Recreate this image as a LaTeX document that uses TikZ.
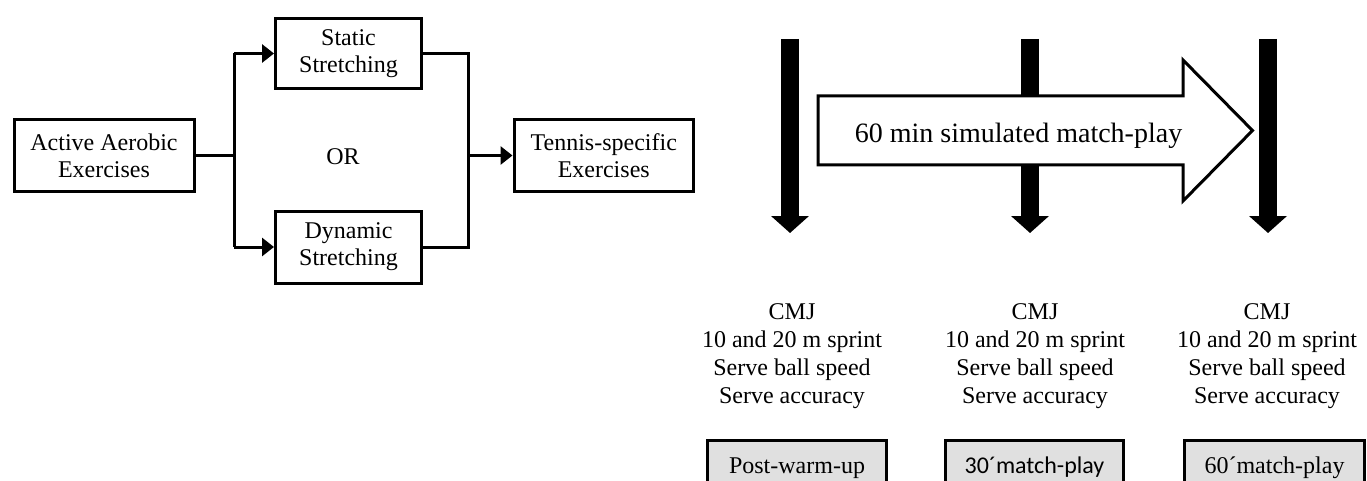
\documentclass[tikz,border=0pt]{standalone}
\usepackage{fontspec}
\setmainfont{Liberation Serif}
\newfontfamily\calib{Carlito}
\usetikzlibrary{arrows.meta}
\definecolor{boxgray}{RGB}{224,224,224}
\tikzset{
  flowbox/.style={draw, line width=3pt, inner sep=0pt, align=center,
    font=\fontsize{24}{27}\selectfont},
  flowline/.style={line width=3pt},
  flowarrow/.style={line width=3pt, -{Triangle[length=12pt,width=18pt]}},
  bigdown/.style={line width=18pt, -{Triangle[length=17pt,width=37pt]}},
  measure/.style={align=center, inner sep=0pt, font=\fontsize{24}{28.3}\selectfont},
  stagebox/.style={draw, fill=boxgray, line width=3pt, inner sep=0pt,
    minimum height=54pt, text height=16pt, text depth=5pt,
    font=\fontsize{24}{28}\selectfont},
}
\begin{document}
\begin{tikzpicture}[x=1pt,y=-1pt]
\clip (0,0) rectangle (1367,481);
\fill[white] (0,0) rectangle (1367,481);
% left flowchart
\node[flowbox, minimum width=180pt, minimum height=72pt] (active) at (104,155.5) {Active Aerobic\\Exercises};
\node[flowbox, minimum width=146pt, minimum height=70pt] (static) at (348.5,53.5) {Static\\Stretching};
\node[flowbox, minimum width=146pt, minimum height=72pt] (dynamic) at (348.5,247) {Dynamic\\Stretching};
\node[flowbox, minimum width=179.5pt, minimum height=72pt] (tennis) at (603.75,155.5) {Tennis-specific\\Exercises};
\node[font=\fontsize{24}{27}\selectfont] (or) at (343,157) {OR};
\coordinate (split) at (234,155.5);
\coordinate (merge) at (468,155.5);
\draw[flowline] (active.east) -- (split);
\draw[flowline] (split |- static.west) -- (split |- dynamic.west);
\draw[flowarrow] (split |- static.west) -- (static.west);
\draw[flowarrow] (split |- dynamic.west) -- (dynamic.west);
\draw[flowline] (static.east) -| (merge);
\draw[flowline] (dynamic.east) -| (merge);
\draw[flowarrow] (merge) -- (tennis.west);
% vertical arrows
\coordinate (a1top) at (790,39);
\coordinate (a1tip) at (790,233);
\coordinate (a2top) at (1030,39);
\coordinate (a2tip) at (1030,233);
\coordinate (a3top) at (1268,39);
\coordinate (a3tip) at (1268,233);
\draw[bigdown] (a1top) -- (a1tip);
\draw[bigdown] (a2top) -- (a2tip);
\draw[bigdown] (a3top) -- (a3tip);
% big block arrow
\draw[line width=3pt, fill=white, line join=miter]
  (818,96) -- (1183,96) -- (1183,60) -- (1252.5,130.5) -- (1183,201) -- (1183,165) -- (818,165) -- cycle;
\node[anchor=base, inner sep=0pt, font=\fontsize{28}{32}\selectfont] (match) at (1018.5,143) {60 min simulated match-play};
% measurement texts
\node[measure, anchor=north] (m1) at (792,303) {CMJ\\10 and 20 m sprint\\Serve ball speed\\Serve accuracy};
\node[measure, anchor=north] (m2) at (1035,303) {CMJ\\10 and 20 m sprint\\Serve ball speed\\Serve accuracy};
\node[measure, anchor=north] (m3) at (1267,303) {CMJ\\10 and 20 m sprint\\Serve ball speed\\Serve accuracy};
% stage boxes
\node[stagebox, minimum width=179pt] (s1) at (797,467.5) {Post-warm-up};
\node[stagebox, minimum width=178pt, font=\calib\fontsize{24}{28}\selectfont] (s2) at (1034.5,467.5) {30´match-play};
\node[stagebox, minimum width=180pt] (s3) at (1274.5,467.5) {60´match-play};
\end{tikzpicture}
\end{document}
